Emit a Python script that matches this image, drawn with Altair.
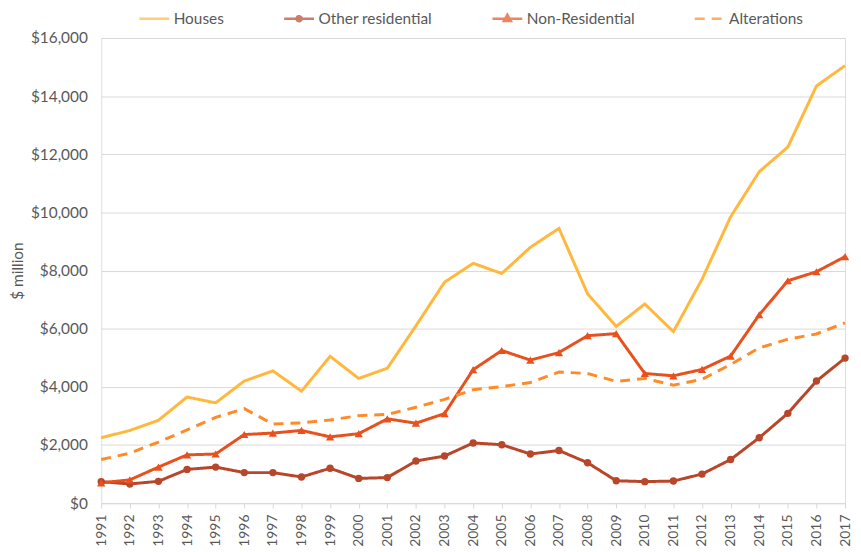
import altair as alt
import pandas as pd

years = list(range(1991, 2018))
series_names = ["Houses", "Other residential", "Non-Residential", "Alterations"]

houses = [2250, 2500, 2850, 3650, 3450, 4200, 4550, 3850, 5050, 4290,
          4640, 6100, 7600, 8250, 7900, 8800, 9450, 7200, 6080, 6850,
          5900, 7700, 9850, 11400, 12250, 14350, 15050]
other_res = [740, 660, 750, 1160, 1240, 1050, 1050, 900, 1200, 850,
             880, 1450, 1620, 2070, 2010, 1690, 1810, 1390, 770, 740,
             760, 1000, 1500, 2250, 3090, 4200, 4990]
non_res = [700, 800, 1240, 1660, 1690, 2360, 2410, 2500, 2280, 2390,
           2900, 2750, 3080, 4590, 5250, 4920, 5180, 5760, 5830, 4460,
           4380, 4600, 5060, 6480, 7650, 7960, 8480]
alterations = [1500, 1720, 2100, 2520, 2950, 3250, 2720, 2760, 2860, 3010,
               3050, 3300, 3570, 3900, 4010, 4150, 4510, 4460, 4190, 4290,
               4060, 4260, 4770, 5340, 5640, 5820, 6200]

colors = ["#FFB83D", "#B8462A", "#E8501E", "#FF8A28"]
dashes = [[1, 0], [1, 0], [1, 0], [10, 7]]
legend_shapes = [
    "M-1,0H1",
    "M-1,0H1M0.17,0A0.17,0.17,0,1,1,-0.17,0A0.17,0.17,0,1,1,0.17,0"
    "M0.08,0A0.08,0.08,0,1,1,-0.08,0A0.08,0.08,0,1,1,0.08,0"
    "M0.02,0A0.02,0.02,0,1,1,-0.02,0A0.02,0.02,0,1,1,0.02,0",
    "M-1,0H1M0,-0.26L0.24,0.16L-0.24,0.16ZM0,-0.14L0.13,0.09L-0.13,0.09Z"
    "M0,-0.04L0.04,0.04L-0.04,0.04Z",
    "M-1,0H1",
]

rows = []
for name, vals in zip(series_names, [houses, other_res, non_res, alterations]):
    for y, v in zip(years, vals):
        rows.append({"year": str(y), "series": name, "value": v})
df = pd.DataFrame(rows)

FONT = "Lato"
GREY = "#595959"
FS = 15.5

x_enc = alt.X("year:O", scale=alt.Scale(padding=0),
              axis=alt.Axis(title=None, labelAngle=-90, labelAlign="right",
                            labelBaseline="middle", labelFontSize=14,
                            labelColor=GREY, labelFont=FONT,
                            domainColor="#d9d9d9", tickColor="#d9d9d9",
                            tickSize=5, labelPadding=6, grid=False))
y_enc = alt.Y("value:Q", scale=alt.Scale(domain=[0, 16000], nice=False),
              axis=alt.Axis(values=list(range(0, 16001, 2000)), format="$,.0f",
                            title="$ million", titleFont=FONT, titleFontSize=FS,
                            titleFontWeight="normal", titleColor=GREY,
                            titlePadding=5,
                            labelFont=FONT, labelFontSize=FS, labelColor=GREY,
                            labelPadding=14, domain=False, ticks=False,
                            gridColor="#d9d9d9", gridWidth=1))

color_scale = alt.Scale(domain=series_names, range=colors)
dash_scale = alt.Scale(domain=series_names, range=dashes)
shape_scale = alt.Scale(domain=series_names, range=legend_shapes)

base = alt.Chart(df)

legend_layer = base.transform_filter("false").mark_point(
    filled=False, strokeWidth=2.5
).encode(
    color=alt.Color("series:N", scale=color_scale,
                    legend=alt.Legend(title=None, orient="none", legendX=37,
                                      legendY=-36, direction="horizontal",
                                      symbolSize=900, symbolStrokeWidth=2.5,
                                      labelFont=FONT, labelFontSize=FS,
                                      labelColor=GREY, labelOffset=3,
                                      columnPadding=55)),
    shape=alt.Shape("series:N", scale=shape_scale),
    strokeDash=alt.StrokeDash("series:N", scale=dash_scale),
)

lines = base.mark_line(strokeWidth=3).encode(
    x=x_enc, y=y_enc,
    color=alt.Color("series:N", scale=color_scale, legend=None),
    strokeDash=alt.StrokeDash("series:N", scale=dash_scale, legend=None),
)

circles = base.transform_filter(alt.datum.series == "Other residential").mark_point(
    shape="circle", filled=True, size=55, opacity=1
).encode(x=x_enc, y=y_enc,
         color=alt.Color("series:N", scale=color_scale, legend=None))

triangles = base.transform_filter(alt.datum.series == "Non-Residential").mark_point(
    shape="triangle-up", filled=True, size=70, opacity=1
).encode(x=x_enc, y=y_enc,
         color=alt.Color("series:N", scale=color_scale, legend=None))

chart = alt.layer(legend_layer, lines, circles, triangles).properties(
    width=750, height=469,
    autosize=alt.AutoSizeParams(type="none"),
    padding={"left": 94, "top": 28, "right": 8, "bottom": 44},
).configure_view(stroke=None).configure(font=FONT, background="white")

chart.save("out.html", embed_options={"renderer": "svg", "actions": False})
